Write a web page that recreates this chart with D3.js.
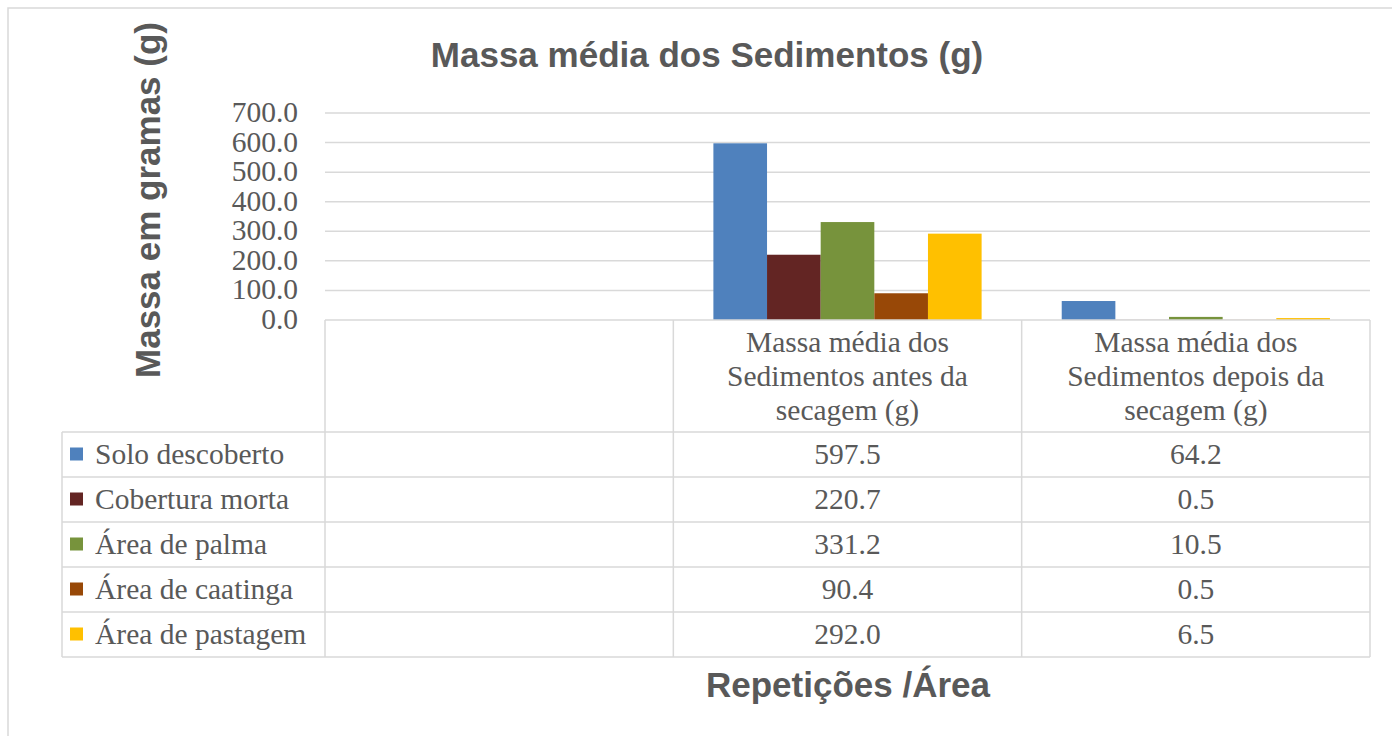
<!DOCTYPE html>
<html>
<head>
<meta charset="utf-8">
<style>
body { margin: 0; background: #fff; }
svg text { fill: #595959; }
.serif { font-family: "Liberation Serif", "DejaVu Serif", serif; font-size: 29.5px; }
.sans { font-family: "Liberation Sans", Arial, sans-serif; font-weight: bold; font-size: 35px; }
</style>
<script src="https://d3js.org/d3.v7.min.js"></script>
</head>
<body>
<svg width="1392" height="736"></svg>
<script>

var categories = ["", "Massa média dos Sedimentos antes da secagem (g)", "Massa média dos Sedimentos depois da secagem (g)"];
var categoryLines = [[], ["Massa média dos", "Sedimentos antes da", "secagem (g)"], ["Massa média dos", "Sedimentos depois da", "secagem (g)"]];
var series = ["Solo descoberto", "Cobertura morta", "Área de palma", "Área de caatinga", "Área de pastagem"];
var colors = ["#4f81bd", "#632523", "#77933c", "#984807", "#ffc000"];
var valuesAntes = [597.5, 220.7, 331.2, 90.4, 292.0];
var valuesDepois = [64.2, 0.5, 10.5, 0.5, 6.5];
var yTicks = [0, 100, 200, 300, 400, 500, 600, 700];

var values = [null, valuesAntes, valuesDepois];

var svg = d3.select("svg");
var gridColor = "#d9d9d9";

// chart frame
svg.append("rect")
    .attr("x", 8).attr("y", 8).attr("width", 1400).attr("height", 760)
    .attr("fill", "none").attr("stroke", "#d9d9d9").attr("stroke-width", 1.5);

var plotLeft = 325, plotRight = 1370, plotTop = 113, plotBottom = 320;
var tableLeft = 62, rowH = 45, headerBottom = 432;

var x = d3.scaleBand().domain(d3.range(categories.length)).range([plotLeft, plotRight]);
var bw = x.bandwidth();
var gap = bw * 0.23;
var xs = d3.scaleBand().domain(d3.range(series.length)).range([gap / 2, bw - gap / 2]);
var y = d3.scaleLinear().domain([0, 700]).range([plotBottom, plotTop]);

// gridlines
svg.append("g").selectAll("line")
    .data(yTicks.filter(function(d) { return d > 0; }))
    .enter().append("line")
    .attr("x1", plotLeft).attr("x2", plotRight)
    .attr("y1", function(d) { return y(d); })
    .attr("y2", function(d) { return y(d); })
    .attr("stroke", gridColor).attr("stroke-width", 1.5);

// tick labels
svg.append("g").selectAll("text")
    .data(yTicks)
    .enter().append("text")
    .attr("class", "serif")
    .attr("x", 298)
    .attr("y", function(d) { return y(d) + 9; })
    .attr("text-anchor", "end")
    .text(function(d) { return d3.format(".1f")(d); });

// bars
categories.forEach(function(c, ci) {
  if (!values[ci]) return;
  svg.append("g").selectAll("rect")
      .data(values[ci])
      .enter().append("rect")
      .attr("x", function(d, i) { return x(ci) + xs(i); })
      .attr("width", xs.bandwidth())
      .attr("y", function(d) { return y(d); })
      .attr("height", function(d) { return plotBottom - y(d); })
      .attr("fill", function(d, i) { return colors[i]; });
});

// data table
var tableBottom = headerBottom + rowH * series.length;
var lines = svg.append("g").attr("stroke", gridColor).attr("stroke-width", 1.5);
lines.append("line").attr("x1", plotLeft).attr("x2", plotRight).attr("y1", plotBottom).attr("y2", plotBottom);
d3.range(series.length + 1).forEach(function(i) {
  var yy = headerBottom + i * rowH;
  lines.append("line").attr("x1", tableLeft).attr("x2", plotRight).attr("y1", yy).attr("y2", yy);
});
lines.append("line").attr("x1", tableLeft).attr("x2", tableLeft).attr("y1", headerBottom).attr("y2", tableBottom);
d3.range(categories.length + 1).forEach(function(i) {
  var xx = i < categories.length ? x(i) : plotRight;
  lines.append("line").attr("x1", xx).attr("x2", xx).attr("y1", plotBottom).attr("y2", tableBottom);
});

// header labels
categoryLines.forEach(function(ls, ci) {
  svg.append("g").selectAll("text")
      .data(ls)
      .enter().append("text")
      .attr("class", "serif")
      .attr("x", x(ci) + bw / 2)
      .attr("y", function(d, i) { return 352 + i * 34; })
      .attr("text-anchor", "middle")
      .text(function(d) { return d; });
});

// legend rows
series.forEach(function(s, i) {
  var cy = headerBottom + i * rowH + rowH / 2;
  svg.append("rect")
      .attr("x", 70).attr("y", cy - 7).attr("width", 13).attr("height", 13)
      .attr("fill", colors[i]);
  svg.append("text")
      .attr("class", "serif")
      .attr("x", 95).attr("y", cy + 9)
      .text(s);
  categories.forEach(function(c, ci) {
    if (!values[ci]) return;
    svg.append("text")
        .attr("class", "serif")
        .attr("x", x(ci) + bw / 2).attr("y", cy + 9)
        .attr("text-anchor", "middle")
        .text(d3.format(".1f")(values[ci][i]));
  });
});

// titles
svg.append("text")
    .attr("class", "sans")
    .attr("x", 707).attr("y", 67)
    .attr("text-anchor", "middle")
    .text("Massa média dos Sedimentos (g)");

svg.append("text")
    .attr("class", "sans")
    .attr("transform", "translate(160,200) rotate(-90)")
    .attr("text-anchor", "middle")
    .text("Massa em gramas (g)");

svg.append("text")
    .attr("class", "sans")
    .attr("x", 848).attr("y", 697)
    .attr("text-anchor", "middle")
    .text("Repetições /Área");

</script>
</body>
</html>
